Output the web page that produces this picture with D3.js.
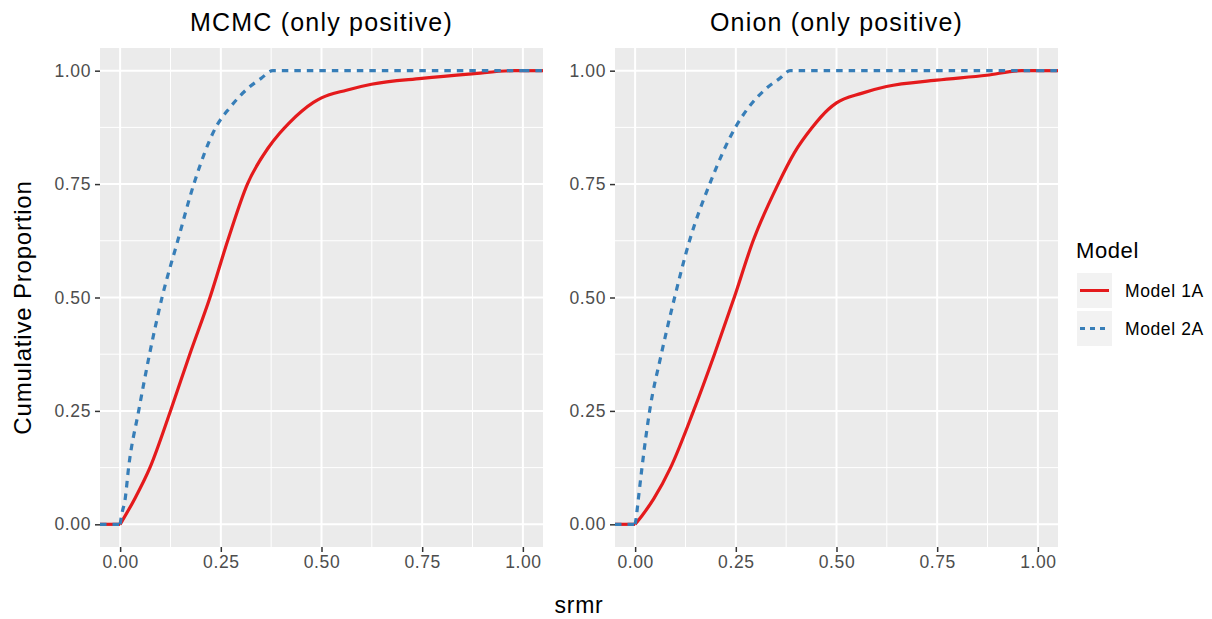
<!DOCTYPE html>
<html>
<head>
<meta charset="utf-8">
<script src="https://cdn.jsdelivr.net/npm/d3@7/dist/d3.min.js"></script>
<style>
  body { margin: 0; background: #fff; }
  text { font-family: "Liberation Sans", Arial, sans-serif; }
</style>
</head>
<body>
<svg id="chart" width="1212" height="619"></svg>
<script>
// facets and series
const facets = ["MCMC (only positive)", "Onion (only positive)"];
const models = ["Model 1A", "Model 2A"];
const xTicks = [0, 0.25, 0.5, 0.75, 1];
const yTicks = [0, 0.25, 0.5, 0.75, 1];

// ECDF curves (srmr, cumulative proportion)
const mcmc1A_x = [0, 0.036, 0.074, 0.125, 0.173, 0.223, 0.267, 0.316, 0.367, 0.396, 0.42, 0.45, 0.48, 0.5, 0.562, 0.624, 0.749, 0.873, 0.976, 1.0];
const mcmc1A_y = [0, 0.056, 0.125, 0.25, 0.375, 0.5, 0.625, 0.75, 0.829, 0.862, 0.885, 0.91, 0.93, 0.94, 0.957, 0.97, 0.983, 0.993, 1.0, 1.0];
const mcmc2A_x = [0, 0.0033, 0.0125, 0.021, 0.046, 0.073, 0.104, 0.143, 0.183, 0.2375, 0.271, 0.317, 0.35, 0.379, 1.0];
const mcmc2A_y = [0, 0.019, 0.056, 0.125, 0.25, 0.375, 0.5, 0.625, 0.75, 0.875, 0.917, 0.961, 0.983, 1.0, 1.0];
const onion1A_x = [0, 0.017, 0.046, 0.088, 0.145, 0.197, 0.246, 0.293, 0.355, 0.396, 0.438, 0.48, 0.5, 0.562, 0.624, 0.749, 0.873, 0.96, 1.0];
const onion1A_y = [0, 0.019, 0.056, 0.125, 0.25, 0.375, 0.5, 0.625, 0.75, 0.82, 0.873, 0.915, 0.929, 0.95, 0.965, 0.979, 0.99, 1.0, 1.0];
const onion2A_x = [0, 0.0033, 0.008, 0.017, 0.036, 0.065, 0.098, 0.135, 0.185, 0.249, 0.28, 0.326, 0.359, 0.385, 1.0];
const onion2A_y = [0, 0.019, 0.056, 0.125, 0.25, 0.375, 0.5, 0.625, 0.75, 0.875, 0.917, 0.961, 0.983, 1.0, 1.0];

const series = [
  [{ model: models[0], xs: mcmc1A_x, ys: mcmc1A_y }, { model: models[1], xs: mcmc2A_x, ys: mcmc2A_y }],
  [{ model: models[0], xs: onion1A_x, ys: onion1A_y }, { model: models[1], xs: onion2A_x, ys: onion2A_y }],
];

const color = d3.scaleOrdinal(models, ["#E41A1C", "#377EB8"]);
const dash = d3.scaleOrdinal(models, ["none", "6.5,6"]);

const svg = d3.select("#chart");
const panelW = 443, panelH = 499, panelTop = 48;
const lefts = [100, 615];

const x = d3.scaleLinear([-0.05, 1.05], [0, panelW]);
const y = d3.scaleLinear([-0.05, 1.05], [panelH, 0]);
const minor = (t) => d3.pairs(t).map(([a, b]) => (a + b) / 2);

const curve = d3.line().x((d) => x(d[0])).y((d) => y(d[1])).curve(d3.curveMonotoneX);
const straight = d3.line().x((d) => x(d[0])).y((d) => y(d[1]));

facets.forEach((title, i) => {
  const g = svg.append("g").attr("transform", `translate(${lefts[i]},${panelTop})`);
  g.append("rect").attr("width", panelW).attr("height", panelH).attr("fill", "#EBEBEB");

  // minor then major grid
  g.selectAll("line.vminor").data(minor(xTicks)).join("line")
    .attr("x1", x).attr("x2", x).attr("y1", 0).attr("y2", panelH)
    .attr("stroke", "#fff").attr("stroke-width", 1);
  g.selectAll("line.hminor").data(minor(yTicks)).join("line")
    .attr("y1", y).attr("y2", y).attr("x1", 0).attr("x2", panelW)
    .attr("stroke", "#fff").attr("stroke-width", 1);
  g.selectAll("line.vmajor").data(xTicks).join("line")
    .attr("x1", x).attr("x2", x).attr("y1", 0).attr("y2", panelH)
    .attr("stroke", "#fff").attr("stroke-width", 2);
  g.selectAll("line.hmajor").data(yTicks).join("line")
    .attr("y1", y).attr("y2", y).attr("x1", 0).attr("x2", panelW)
    .attr("stroke", "#fff").attr("stroke-width", 2);

  // curves; flat pads out to the panel edges like stat_ecdf
  series[i].forEach((s) => {
    const pts = s.xs.map((v, k) => [v, s.ys[k]]);
    const pads = [
      [[x.domain()[0], 0], pts[0]],
      [pts[pts.length - 1], [x.domain()[1], 1]],
    ];
    [curve(pts), ...pads.map(straight)].forEach((d) => {
      g.append("path").attr("d", d)
        .attr("fill", "none")
        .attr("stroke", color(s.model))
        .attr("stroke-width", 3.2)
        .attr("stroke-dasharray", dash(s.model))
        .attr("stroke-linejoin", "round");
    });
  });

  // axes
  const ax = g.append("g").attr("transform", `translate(0,${panelH})`)
    .call(d3.axisBottom(x).tickValues(xTicks).tickFormat(d3.format(".2f")).tickSize(5).tickPadding(4));
  const ay = g.append("g")
    .call(d3.axisLeft(y).tickValues(yTicks).tickFormat(d3.format(".2f")).tickSize(5).tickPadding(4));
  [ax, ay].forEach((a) => {
    a.select(".domain").remove();
    a.selectAll("line").attr("stroke", "#333").attr("stroke-width", 1.5);
    a.selectAll("text").attr("fill", "#4D4D4D").style("font-size", "17.5px")
      .style("font-family", "'Liberation Sans', Arial, sans-serif").style("letter-spacing", "0.6px");
  });

  svg.append("text")
    .attr("x", lefts[i] + panelW / 2).attr("y", 31)
    .attr("text-anchor", "middle").attr("fill", "#000")
    .style("font-size", "25px").style("letter-spacing", "1.2px")
    .text(title);
});

// axis titles
svg.append("text").attr("x", (lefts[0] + lefts[1] + panelW) / 2).attr("y", 613)
  .attr("text-anchor", "middle").style("font-size", "23px").style("letter-spacing", "0.8px").text("srmr");
svg.append("text").attr("transform", `translate(31,${panelTop + panelH / 2 + 10}) rotate(-90)`)
  .attr("text-anchor", "middle").style("font-size", "24px").style("letter-spacing", "0.8px").text("Cumulative Proportion");

// legend
const lg = svg.append("g").attr("transform", "translate(1076,0)");
lg.append("text").attr("x", 0).attr("y", 258).style("font-size", "22px").style("letter-spacing", "0.6px").text("Model");
const keys = lg.selectAll("g.key").data(models).join("g")
  .attr("transform", (d, i) => `translate(1,${273 + i * 38})`);
keys.append("rect").attr("width", 35).attr("height", 35).attr("fill", "#F2F2F2");
keys.append("line").attr("x1", 3).attr("x2", 32).attr("y1", 17.5).attr("y2", 17.5)
  .attr("stroke", (d) => color(d)).attr("stroke-width", 3).attr("stroke-dasharray", (d) => (d === models[1] ? "5,5" : null));
keys.append("text").attr("x", 48).attr("y", 17.5).attr("dy", "0.35em")
  .style("font-size", "17.5px").style("letter-spacing", "0.6px").text((d) => d);
</script>
</body>
</html>
